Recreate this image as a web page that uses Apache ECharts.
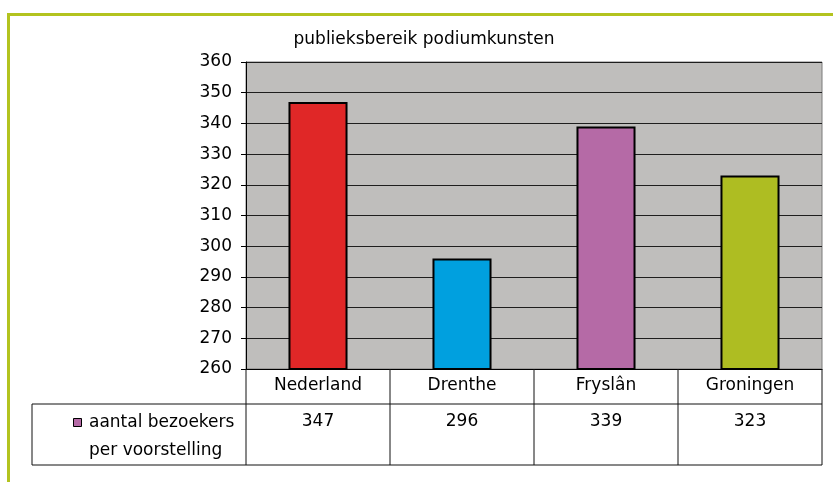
<!DOCTYPE html>
<html>
<head>
<meta charset="utf-8">
<script src="https://cdn.jsdelivr.net/npm/echarts@6/dist/echarts.min.js"></script>
<style>
html,body{margin:0;padding:0;background:#fff;}
#chart{width:833px;height:482px;}
</style>
</head>
<body>
<div id="chart"></div>
<script>
var categories = ['Nederland', 'Drenthe', 'Fryslân', 'Groningen'];
var values = [347, 296, 339, 323];
var barColors = ['#e02727', '#00a0df', '#b56aa6', '#aebd22'];
var yTicks = [260, 270, 280, 290, 300, 310, 320, 330, 340, 350, 360];
var seriesName = 'aantal bezoekers per voorstelling';
var legendLines = ['aantal bezoekers', 'per voorstelling'];
var titleText = 'publieksbereik podiumkunsten';

var FONT = 'DejaVu Sans';
var FS = 17;
var chart = echarts.init(document.getElementById('chart'), null, {renderer: 'canvas'});

var option = {
  animation: false,
  backgroundColor: '#ffffff',
  grid: {
    left: 246, top: 62, width: 576, height: 307,
    show: true, backgroundColor: '#bfbebc', borderColor: '#7a7a7a', borderWidth: 1
  },
  xAxis: {
    type: 'category',
    data: categories,
    axisLine: {show: true, lineStyle: {color: '#000', width: 1}},
    axisTick: {show: false},
    axisLabel: {show: true, margin: 8, fontFamily: FONT, fontSize: FS, color: '#000'}
  },
  yAxis: {
    type: 'value',
    min: yTicks[0], max: yTicks[yTicks.length - 1], interval: 10,
    axisLine: {show: true, lineStyle: {color: '#000', width: 1}},
    axisTick: {show: true, length: 5, lineStyle: {color: '#000'}},
    axisLabel: {margin: 14, fontFamily: FONT, fontSize: FS, color: '#000'},
    splitLine: {show: true, lineStyle: {color: '#1e1e1e', width: 1}}
  },
  series: [{
    name: seriesName,
    type: 'bar',
    barWidth: '41%',
    data: values.map(function (v, i) {
      return {value: v, itemStyle: {color: barColors[i], borderColor: '#000', borderWidth: 2}};
    })
  }]
};
chart.setOption(option);

function buildTable() {
  var g = [];
  var font = FS + 'px "' + FONT + '"';
  var band = 576 / categories.length;
  var gridBottom = chart.convertToPixel({yAxisIndex: 0}, yTicks[0]);
  var row1Bottom = gridBottom + 35;
  var row2Bottom = row1Bottom + 61;
  var firstCenter = chart.convertToPixel({xAxisIndex: 0}, categories[0]);
  var lastCenter = chart.convertToPixel({xAxisIndex: 0}, categories[categories.length - 1]);
  var leftX = firstCenter - band / 2;
  var rightX = lastCenter + band / 2;
  var tableLeft = 32;
  var lc = '#111';
  function line(x1, y1, x2, y2) {
    g.push({type: 'line', shape: {x1: x1, y1: y1, x2: x2, y2: y2}, style: {stroke: lc, lineWidth: 1}, z: 10});
  }
  line(tableLeft, row1Bottom, rightX, row1Bottom);
  line(tableLeft, row2Bottom, rightX, row2Bottom);
  line(tableLeft, row1Bottom, tableLeft, row2Bottom);
  for (var i = 0; i <= categories.length; i++) {
    var x = leftX + i * band;
    line(x, gridBottom, x, row2Bottom);
  }
  values.forEach(function (v, i) {
    var cx = chart.convertToPixel({xAxisIndex: 0}, categories[i]);
    g.push({type: 'text', x: cx, y: row1Bottom + 18, z: 11,
      style: {text: String(v), fill: '#000', font: font, textAlign: 'center', textVerticalAlign: 'middle'}});
  });
  g.push({type: 'rect', shape: {x: 73.5, y: row1Bottom + 14.5, width: 8, height: 8}, z: 11,
    style: {fill: barColors[2], stroke: '#000', lineWidth: 1}});
  g.push({type: 'text', x: 89, y: row1Bottom + 19, z: 11,
    style: {text: legendLines[0], fill: '#000', font: font, textAlign: 'left', textVerticalAlign: 'middle'}});
  g.push({type: 'text', x: 89, y: row1Bottom + 47, z: 11,
    style: {text: legendLines[1], fill: '#000', font: font, textAlign: 'left', textVerticalAlign: 'middle'}});
  // title
  g.push({type: 'text', x: 424, y: 40, z: 11,
    style: {text: titleText, fill: '#000', font: font, textAlign: 'center', textVerticalAlign: 'middle'}});
  // outer frame (green)
  g.push({type: 'rect', shape: {x: 7, y: 13, width: 840, height: 3}, style: {fill: '#b3c31f'}, z: 12});
  g.push({type: 'rect', shape: {x: 7, y: 13, width: 3, height: 480}, style: {fill: '#b3c31f'}, z: 12});
  chart.setOption({graphic: {elements: g}});
}
buildTable();
</script>
</body>
</html>
